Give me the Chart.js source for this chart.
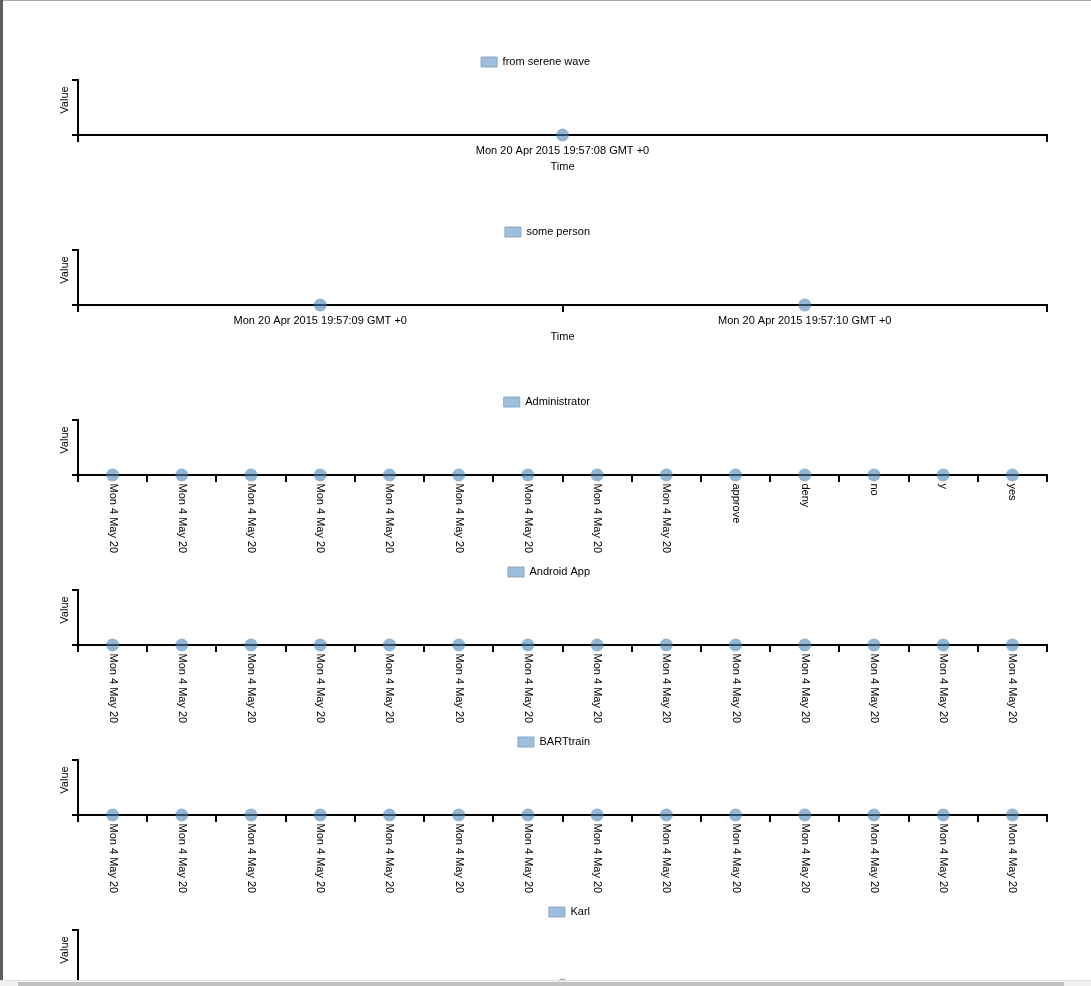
<!DOCTYPE html>
<html>
<head>
<meta charset="utf-8">
<script src="https://cdn.jsdelivr.net/npm/chart.js@4.4.1/dist/chart.umd.min.js"></script>
<style>
html, body { margin: 0; padding: 0; background: #fff; overflow: hidden; width: 1091px; height: 986px; }
#wrap { position: relative; width: 1091px; height: 986px; overflow: hidden; background: #fff; }
canvas.c { position: absolute; left: 0; }
#topline { position: absolute; left: 0; top: 0; width: 1091px; height: 1px; background: #a8a8a8; z-index: 5; }
#leftbar { position: absolute; left: 0; top: 0; width: 3px; height: 980px; background: #5c5f62; z-index: 5; }
#track { position: absolute; left: 0; top: 980px; width: 1091px; height: 6px; background: #f1f1f1; border-top: 1px solid #e4e4e4; z-index: 5; }
#thumb { position: absolute; left: 18px; top: 982px; width: 1046px; height: 4px; background: #c2c2c2; z-index: 6; }
</style>
</head>
<body>
<div id="wrap">
  <div id="topline"></div>
  <div id="leftbar"></div>
  <div id="track"></div>
  <div id="thumb"></div>
</div>
<script>
// ---- data ----
const seriesNames = ["from serene wave", "some person", "Administrator", "Android App", "BARTtrain", "Karl"];

const labels1 = ["Mon 20 Apr 2015 19:57:08 GMT +0"];
const values1 = [0];

const labels2 = ["Mon 20 Apr 2015 19:57:09 GMT +0", "Mon 20 Apr 2015 19:57:10 GMT +0"];
const values2 = [0, 0];

const labels3 = ["Mon 4 May 20", "Mon 4 May 20", "Mon 4 May 20", "Mon 4 May 20", "Mon 4 May 20",
                 "Mon 4 May 20", "Mon 4 May 20", "Mon 4 May 20", "Mon 4 May 20",
                 "approve", "deny", "no", "y", "yes"];
const values3 = [0, 0, 0, 0, 0, 0, 0, 0, 0, 0, 0, 0, 0, 0];

const labels4 = ["Mon 4 May 20", "Mon 4 May 20", "Mon 4 May 20", "Mon 4 May 20", "Mon 4 May 20",
                 "Mon 4 May 20", "Mon 4 May 20", "Mon 4 May 20", "Mon 4 May 20", "Mon 4 May 20",
                 "Mon 4 May 20", "Mon 4 May 20", "Mon 4 May 20", "Mon 4 May 20"];
const values4 = [0, 0, 0, 0, 0, 0, 0, 0, 0, 0, 0, 0, 0, 0];

const labels5 = ["Mon 4 May 20", "Mon 4 May 20", "Mon 4 May 20", "Mon 4 May 20", "Mon 4 May 20",
                 "Mon 4 May 20", "Mon 4 May 20", "Mon 4 May 20", "Mon 4 May 20", "Mon 4 May 20",
                 "Mon 4 May 20", "Mon 4 May 20", "Mon 4 May 20", "Mon 4 May 20"];
const values5 = [0, 0, 0, 0, 0, 0, 0, 0, 0, 0, 0, 0, 0, 0];

const labels6 = ["Mon 20 Apr 2015 19:57:11 GMT +0"];
const values6 = [0];

const xTitle = "Time";
const yTitle = "Value";

// ---- styling / layout ----
Chart.defaults.font.family = "'Liberation Sans', Arial, sans-serif";
Chart.defaults.font.size = 11;
Chart.defaults.color = '#000';

const CANVAS_H = 220;
const PERIOD = 170;
const AREA_BOTTOM = 135;
const LEGEND_TEXT_END = 590;
const PT_COLOR = 'rgba(70,130,180,0.58)';
const LEG_FILL = '#9dbfdc';
const LEG_STROKE = '#86a8c6';

const legendPlace = {
  id: 'legendPlace',
  beforeDraw(chart) {
    const lg = chart.legend;
    if (lg) {
      const w = lg.right - lg.left;
      const h = lg.bottom - lg.top;
      lg.right = LEGEND_TEXT_END + lg.options.labels.padding;
      lg.left = lg.right - w;
      lg.top = chart.chartArea.top - 33.5;
      lg.bottom = lg.top + h;
    }
    // centre the y-axis title a little above the middle of the axis
    const sy = chart.scales.y;
    if (sy && !sy._titlePatched) {
      const orig = sy.drawTitle.bind(sy);
      sy.drawTitle = function () {
        const t = this.top;
        this.top = t - 15;
        orig();
        this.top = t;
      };
      sy._titlePatched = true;
    }
  }
};

const verticalTicks = {
  id: 'verticalTicks',
  beforeDraw(chart) {
    const sc = chart.scales.x;
    const items = sc.getLabelItems();
    items.forEach((it, i) => {
      const o = it.options;
      o.rotation = Math.PI / 2;
      o.textAlign = 'left';
      o.textBaseline = 'middle';
      o.translation = [sc.getPixelForTick(i), sc.top + 8.5];
      it.textOffset = 0;
    });
  }
};

const wrap = document.getElementById('wrap');

function makeChart(idx, name, labels, values, vertical) {
  const cv = document.createElement('canvas');
  cv.className = 'c';
  cv.width = 1091;
  cv.height = CANVAS_H;
  cv.style.width = '1091px';
  cv.style.height = CANVAS_H + 'px';
  cv.style.top = (PERIOD * idx) + 'px';
  wrap.appendChild(cv);

  new Chart(cv, {
    type: 'line',
    data: {
      labels: labels,
      datasets: [{
        label: name,
        data: values,
        showLine: false,
        backgroundColor: LEG_FILL,
        borderColor: LEG_STROKE,
        borderWidth: 1,
        pointRadius: 6.5,
        pointHoverRadius: 6.5,
        pointBackgroundColor: PT_COLOR,
        pointBorderWidth: 0,
        clip: false
      }]
    },
    options: {
      responsive: false,
      animation: false,
      devicePixelRatio: 1,
      events: [],
      layout: { padding: { left: 58, right: 44, top: 49, bottom: 0 } },
      plugins: {
        legend: {
          align: 'end',
          labels: { boxWidth: 16, boxHeight: 10, padding: 10, color: '#000', font: { size: 11 } }
        },
        tooltip: { enabled: false }
      },
      scales: {
        x: {
          type: 'category',
          offset: true,
          grid: { offset: true, drawOnChartArea: false, tickLength: 7, color: '#000', lineWidth: 2 },
          border: { color: '#000', width: 2 },
          ticks: {
            autoSkip: false,
            minRotation: vertical ? 90 : 0,
            maxRotation: vertical ? 90 : 0,
            padding: 2,
            color: '#000',
            font: { size: 11 }
          },
          title: {
            display: !vertical,
            text: xTitle,
            color: '#000',
            font: { size: 11 },
            padding: { top: 0, bottom: CANVAS_H - 167 - 6.6 }
          },
          afterFit: (s) => { s.height = CANVAS_H - AREA_BOTTOM; }
        },
        y: {
          min: 0,
          max: 1,
          grid: { drawOnChartArea: false, tickLength: 6, color: '#000', lineWidth: 2 },
          border: { color: '#000', width: 2 },
          ticks: { display: false, stepSize: 1 },
          title: { display: true, text: yTitle, color: '#000', font: { size: 11 }, padding: 0 },
          afterFit: (s) => { s.width = 20; }
        }
      }
    },
    plugins: vertical ? [legendPlace, verticalTicks] : [legendPlace]
  });
}

makeChart(0, seriesNames[0], labels1, values1, false);
makeChart(1, seriesNames[1], labels2, values2, false);
makeChart(2, seriesNames[2], labels3, values3, true);
makeChart(3, seriesNames[3], labels4, values4, true);
makeChart(4, seriesNames[4], labels5, values5, true);
makeChart(5, seriesNames[5], labels6, values6, false);
</script>
</body>
</html>
